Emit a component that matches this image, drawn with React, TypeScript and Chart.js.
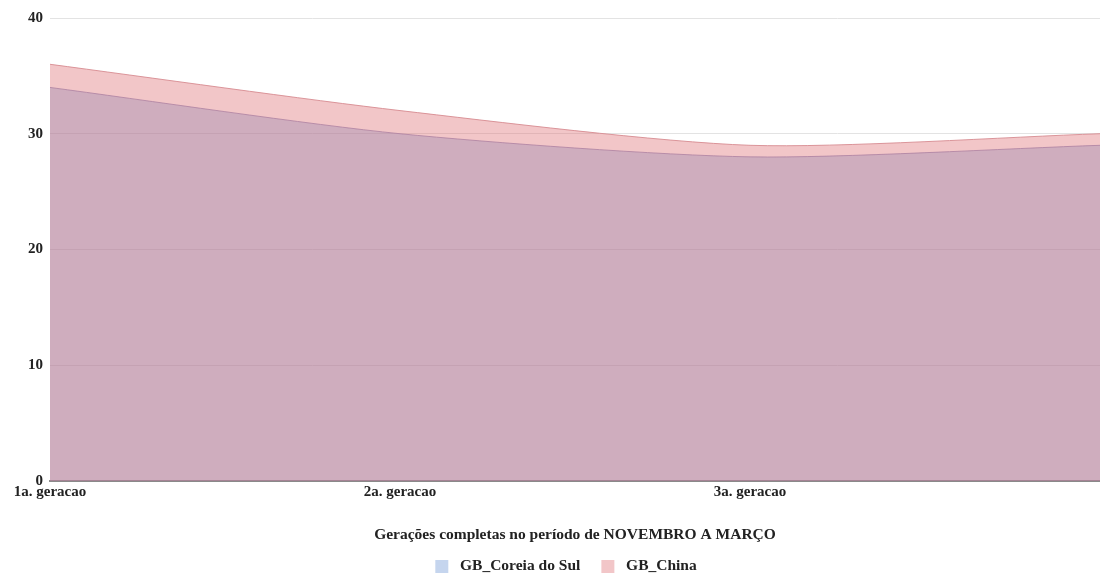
import React, { useEffect, useRef } from "react";
import { Chart, registerables } from "chart.js";

Chart.register(...registerables);

const categories = ["1a. geracao", "2a. geracao", "3a. geracao", ""];
const coreiaValues = [34, 30, 28, 29];
const chinaValues = [36, 32, 29, 30];
const yTicks = [0, 10, 20, 30, 40];
const xTitle = "Gerações completas no período de NOVEMBRO A MARÇO";
const seriesNames = ["GB_Coreia do Sul", "GB_China"];
const legendColors = ["#c5d5ee", "#f2c6c8"];

const FONT = "'Liberation Serif', 'Times New Roman', serif";

function makeLegendBox(color: string): HTMLCanvasElement {
  const c = document.createElement("canvas");
  c.width = 28;
  c.height = 13;
  const ctx = c.getContext("2d");
  if (ctx) {
    ctx.fillStyle = color;
    ctx.fillRect(11, 0, 13, 13);
  }
  return c;
}

export default function App() {
  const ref = useRef<HTMLCanvasElement | null>(null);
  useEffect(() => {
    document.body.style.margin = "0";
    if (!ref.current) return;
    const boxes = legendColors.map(makeLegendBox);
    const chart = new Chart(ref.current, {
      type: "line",
      data: {
        labels: categories,
        datasets: [
          {
            label: seriesNames[0],
            data: coreiaValues,
            backgroundColor: "rgba(110,150,212,0.4)",
            borderColor: "rgba(140,140,190,0.8)",
            borderWidth: 1,
            fill: "origin",
            tension: 0.25,
            pointRadius: 0,
            order: 1,
          },
          {
            label: seriesNames[1],
            data: chinaValues,
            backgroundColor: "rgba(222,112,117,0.4)",
            borderColor: "rgba(215,140,145,0.9)",
            borderWidth: 1,
            fill: "origin",
            tension: 0.25,
            pointRadius: 0,
            order: 0,
          },
        ],
      },
      options: {
        animation: false,
        responsive: false,
        maintainAspectRatio: false,
        layout: { autoPadding: false, padding: { top: 18, left: 21, right: 0, bottom: 0 } },
        plugins: {
          legend: {
            position: "bottom",
            labels: {
              usePointStyle: true,
              pointStyleWidth: 28,
              boxHeight: 13,
              color: "#222",
              font: { family: FONT, weight: "bold", size: 15.5 },
              padding: 10,
              sort: (a: any, b: any) => a.datasetIndex - b.datasetIndex,
              generateLabels: (ch: any) =>
                (Chart.defaults.plugins.legend.labels.generateLabels as any)(ch).map((l: any) => ({
                  ...l,
                  pointStyle: boxes[l.datasetIndex],
                })),
            },
          },
          tooltip: { enabled: false },
        },
        scales: {
          x: {
            grid: { display: false, drawTicks: false },
            border: { color: "#8a8a8a", width: 2 },
            afterFit: (s: any) => {
              s.paddingRight = 0;
            },
            ticks: {
              color: "#222",
              font: { family: FONT, weight: "bold", size: 15 },
              maxRotation: 0,
              autoSkip: false,
              padding: 2,
            },
            title: {
              display: true,
              text: xTitle,
              color: "#222",
              font: { family: FONT, weight: "bold", size: 15.5 },
              padding: { top: 23, bottom: 4 },
            },
          },
          y: {
            min: 0,
            max: 40,
            afterBuildTicks: (axis: any) => {
              axis.ticks = yTicks.map((v) => ({ value: v }));
            },
            grid: { color: "#e3e3e3", drawTicks: false },
            border: { display: false },
            ticks: {
              color: "#222",
              font: { family: FONT, weight: "bold", size: 15 },
              padding: 7,
            },
          },
        },
      },
    });
    return () => chart.destroy();
  }, []);
  return (
    <div style={{ width: 1100, height: 584 }}>
      <canvas ref={ref} width={1100} height={584} style={{ width: 1100, height: 584, display: "block" }} />
    </div>
  );
}
